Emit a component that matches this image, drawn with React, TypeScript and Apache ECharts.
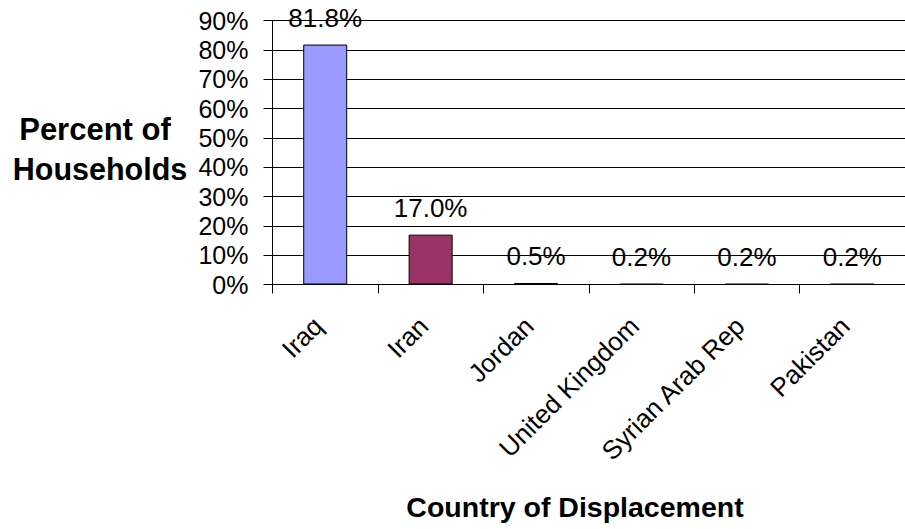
import React, { useEffect, useRef } from "react";
import * as echarts from "echarts";

const categories = ["Iraq", "Iran", "Jordan", "United Kingdom", "Syrian Arab Rep", "Pakistan"];
const values = [81.8, 17.0, 0.5, 0.2, 0.2, 0.2];
const barColors = ["#9999FF", "#993366", "#FFFFCC", "#CCFFFF", "#660066", "#FF8080"];
const yTicks = { min: 0, max: 90, interval: 10 };
const yTitleLines = ["Percent of", "Households"];
const xTitle = "Country of Displacement";

const FONT = "'Liberation Sans', Arial, Helvetica, sans-serif";

export default function App() {
  const ref = useRef<HTMLDivElement>(null);
  useEffect(() => {
    if (!ref.current) return;
    const chart = echarts.init(ref.current, undefined, { renderer: "svg" });
    chart.setOption({
      animation: false,
      backgroundColor: "#ffffff",
      textStyle: { fontFamily: FONT },
      grid: { left: 272.5, top: 20.5, width: 642, height: 264, containLabel: false },
      xAxis: {
        type: "category",
        data: categories,
        boundaryGap: true,
        axisLine: { show: true, lineStyle: { color: "#000", width: 1 } },
        axisTick: { show: true, length: 9, interval: 0, alignWithLabel: false, lineStyle: { color: "#000" } },
        axisLabel: {
          interval: 0,
          rotate: 45,
          margin: 30,
          padding: [0, 10, 0, 0],
          fontSize: 26,
          color: "#000",
          fontFamily: FONT,
        },
        splitLine: { show: false },
      },
      yAxis: {
        type: "value",
        min: yTicks.min,
        max: yTicks.max,
        interval: yTicks.interval,
        axisLine: { show: true, lineStyle: { color: "#000", width: 1 } },
        axisTick: { show: true, length: 9, lineStyle: { color: "#000" } },
        axisLabel: {
          formatter: "{value}%",
          fontSize: 25,
          color: "#000",
          margin: 24,
          fontFamily: FONT,
        },
        splitLine: { show: true, lineStyle: { color: "#000", width: 1 } },
      },
      series: [
        {
          type: "bar",
          data: values.map((v, i) => ({
            value: v,
            itemStyle: { color: barColors[i], borderColor: "#000", borderWidth: 1 },
          })),
          barWidth: 44,
          label: {
            show: true,
            position: "top",
            distance: 14,
            fontSize: 26,
            color: "#000",
            fontFamily: FONT,
            formatter: (p: any) => Number(p.value).toFixed(1) + "%",
          },
        },
      ],
      graphic: [
        {
          type: "text",
          x: 95,
          y: 129,
          style: {
            text: yTitleLines[0],
            fill: "#000",
            fontSize: 31,
            fontWeight: "bold",
            fontFamily: FONT,
            textAlign: "center",
            align: "center",
            textVerticalAlign: "middle",
            verticalAlign: "middle",
          },
        },
        {
          type: "text",
          x: 100,
          y: 169,
          style: {
            text: yTitleLines[1],
            fill: "#000",
            fontSize: 30.5,
            fontWeight: "bold",
            fontFamily: FONT,
            textAlign: "center",
            align: "center",
            textVerticalAlign: "middle",
            verticalAlign: "middle",
          },
        },
        {
          type: "text",
          x: 575,
          y: 507,
          style: {
            text: xTitle,
            fill: "#000",
            fontSize: 28.5,
            fontWeight: "bold",
            fontFamily: FONT,
            textAlign: "center",
            align: "center",
            textVerticalAlign: "middle",
            verticalAlign: "middle",
          },
        },
      ],
    });
    return () => chart.dispose();
  }, []);
  return (
    <div
      ref={ref}
      style={{ position: "fixed", left: 0, top: 0, width: 905, height: 529, background: "#fff" }}
    />
  );
}
